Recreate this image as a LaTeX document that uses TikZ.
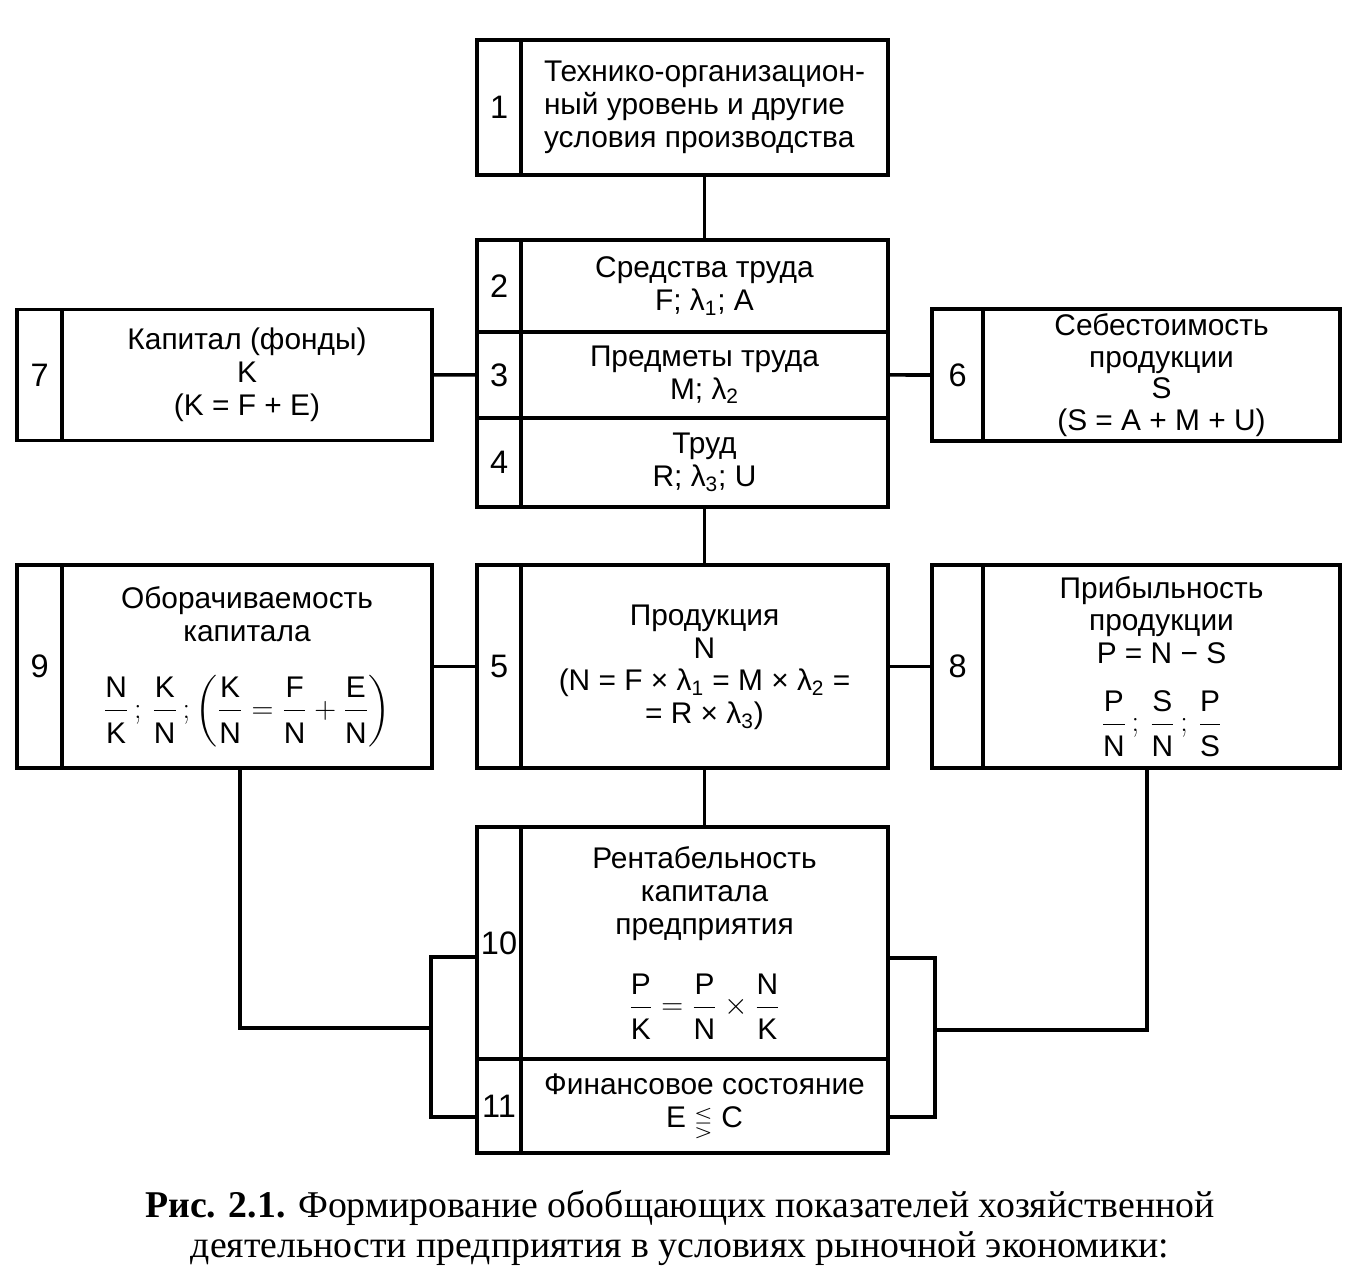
\documentclass[tikz,border=0pt]{standalone}
\usepackage{fontspec}
\usepackage{amsmath,amssymb}
\setmainfont{Liberation Sans}
\newfontfamily\capfont{Liberation Serif}
\usetikzlibrary{positioning}
\tikzstyle{link} = [line width=2pt]
\tikzstyle{component} = [rectangle, draw = black, line width=2.2pt, outer sep=0pt, inner sep=2pt, align=center, font=\fontsize{17}{18.7}\selectfont]
\tikzstyle{numcell} = [component, minimum width=0.88cm, font=\fontsize{18.5}{20}\selectfont]
\tikzstyle{caption} = [align=center, font=\capfont\fontsize{21.5}{22.5}\selectfont]
\newcommand{\frc}[2]{\ensuremath{\dfrac{\text{#1}\vrule depth 4pt width 0pt}{\vrule height 16pt width 0pt\text{#2}}}}

\begin{document}
\begin{tikzpicture}[x=0.02cm, y=-0.02cm]

\fill[white] (0,0) rectangle (1367,1264);

% Technical level box:
\node(tech)[component, align=left, minimum width=7.34cm, minimum height=2.7cm] at (704.5,107.5)
{Технико-организацион-\\ный уровень и другие\\условия производства};
\node(tech-n)[numcell, minimum height=2.7cm, left=0pt of tech] {1};

% Means, objects and labour boxes:
\node(means)[component, minimum width=7.34cm, minimum height=1.84cm] at (704.5,286)
{Средства труда\\F; λ\textsubscript{1}; A};
\node(means-n)[numcell, minimum height=1.84cm, left=0pt of means] {2};
\node(objects)[component, minimum width=7.34cm, minimum height=1.72cm, below=0pt of means]
{Предметы труда\\M; λ\textsubscript{2}};
\node(objects-n)[numcell, minimum height=1.72cm, left=0pt of objects] {3};
\node(labour)[component, minimum width=7.34cm, minimum height=1.78cm, below=0pt of objects]
{Труд\\R; λ\textsubscript{3}; U};
\node(labour-n)[numcell, minimum height=1.78cm, left=0pt of labour] {4};

% Capital box:
\node(capital)[component, minimum width=7.4cm, minimum height=2.62cm] at (247,375)
{Капитал (фонды)\\K\\(K = F + E)};
\node(capital-n)[numcell, minimum width=0.9cm, minimum height=2.62cm, left=0pt of capital] {7};

% Cost box:
\node(cost)[component, inner sep=0pt, font=\fontsize{17}{18}\selectfont, minimum width=7.14cm, minimum height=2.64cm] at (1161.5,375)
{Себестоимость\\продукции\\S\\(S = A + M + U)};
\node(cost-n)[numcell, minimum width=1.02cm, minimum height=2.64cm, left=0pt of cost] {6};

% Output box:
\node(output)[component, minimum width=7.34cm, minimum height=4.06cm] at (704.5,666.5)
{\\[-6pt]Продукция\\N\\(N = F × λ\textsubscript{1} = M × λ\textsubscript{2} =\\= R × λ\textsubscript{3})};
\node(output-n)[numcell, minimum height=4.06cm, left=0pt of output] {5};

% Turnover box:
\node(turnover)[component, minimum width=7.4cm, minimum height=4.06cm] at (247,666.5)
{Оборачиваемость\\капитала\\[18pt]$\frc{N}{K}\,;\,\frc{K}{N}\,;\left(\frc{K}{N} = \frc{F}{N} + \frc{E}{N}\right)$};
\node(turnover-n)[numcell, minimum width=0.9cm, minimum height=4.06cm, left=0pt of turnover] {9};

% Profit box:
\node(profit)[component, minimum width=7.14cm, minimum height=4.06cm] at (1161.5,666.5)
{Прибыльность\\продукции\\P = N − S\\[14pt]$\frc{P}{N}\,;\,\frc{S}{N}\,;\,\frc{P}{S}$};
\node(profit-n)[numcell, minimum width=1.02cm, minimum height=4.06cm, left=0pt of profit] {8};

% Return and finance boxes:
\node(rent)[component, minimum width=7.34cm, minimum height=4.64cm] at (704.5,943)
{Рентабельность\\капитала\\предприятия\\[18pt]$\frc{P}{K} = \frc{P}{N} \times \frc{N}{K}$};
\node(rent-n)[numcell, minimum height=4.64cm, left=0pt of rent] {10};
\node(finance)[component, minimum width=7.34cm, minimum height=1.88cm, below=0pt of rent]
{Финансовое состояние\\E \raisebox{-1pt}{\scalebox{0.8}{$\lesseqgtr$}} C};
\node(finance-n)[numcell, minimum height=1.88cm, left=0pt of finance] {11};

% Connectors:
\draw[link] (tech) -- (means);
\draw[link] (capital) -- (objects-n);
\draw[link] (objects) -- (cost-n);
\draw[link] (labour) -- (output);
\draw[link] (turnover) -- (output-n);
\draw[link] (output) -- (profit-n);
\draw[link] (output) -- (rent);

% Left bracket:
\coordinate(lturn) at (240,1028);
\coordinate(lbar) at (431,1028);
\coordinate(ltop) at (431,957);
\coordinate(lbot) at (431,1117);
\draw[link] (turnover.south -| lturn) |- (lbar);
\draw[link] (rent-n.west |- ltop) -- (ltop) -- (lbot) -- (finance-n.west |- lbot);

% Right bracket:
\coordinate(rturn) at (1147,1030);
\coordinate(rbar) at (935,1030);
\coordinate(rtop) at (935,958);
\coordinate(rbot) at (935,1117);
\draw[link] (profit.south -| rturn) |- (rbar);
\draw[link] (rent.east |- rtop) -- (rtop) -- (rbot) -- (finance.east |- rbot);

% Caption:
\node(caption)[caption] at (680,1228)
{\textbf{Рис. 2.1.} Формирование обобщающих показателей хозяйственной\\
деятельности предприятия в условиях рыночной экономики:};

\end{tikzpicture}
\end{document}
